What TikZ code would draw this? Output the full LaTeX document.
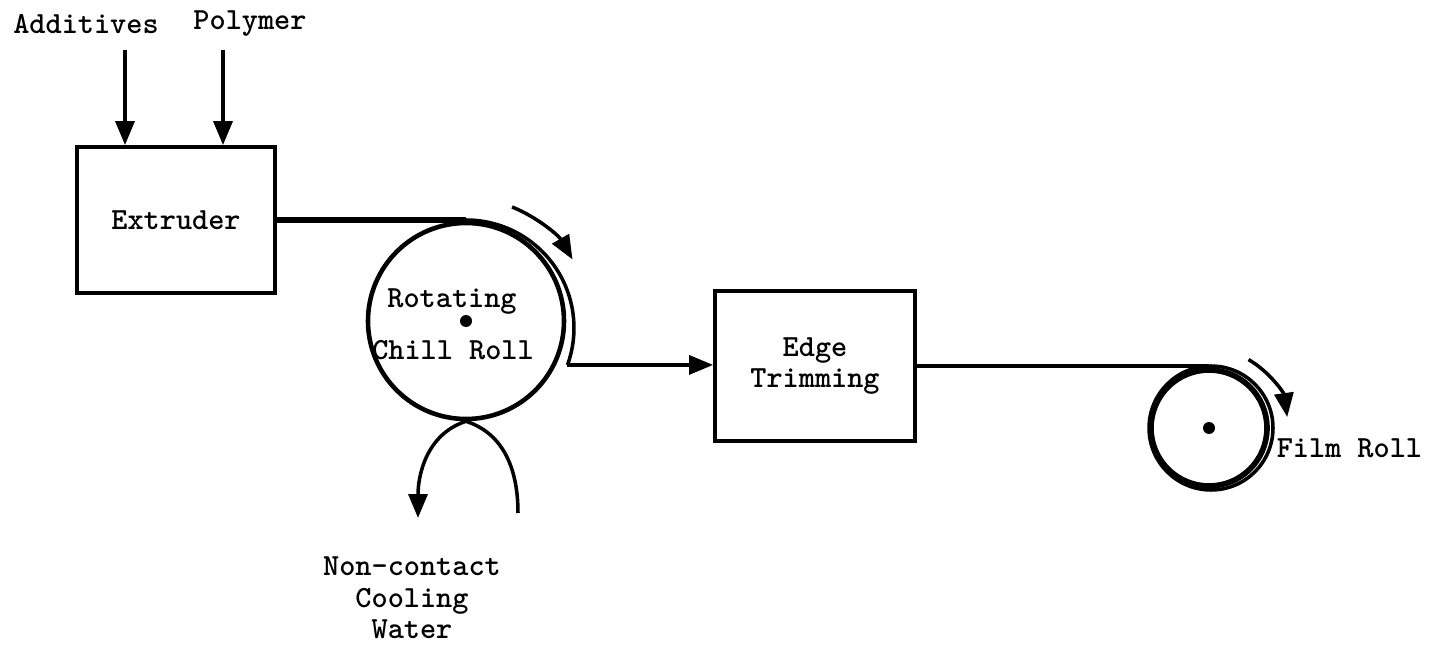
\documentclass[tikz,border=0pt]{standalone}
\usetikzlibrary{arrows.meta,positioning}
\newcommand{\spin}[4]{\draw[->] (#1) ++(#2:#4) arc[start angle=#2, end angle=#3, radius=#4]; }

\begin{document}
\begin{tikzpicture}[x=0.2mm,y=0.2mm,>={Triangle[length=4.8mm,width=3.8mm]},line width=2pt,
  every node/.style={font=\fontsize{17.5}{18}\selectfont\ttfamily\bfseries},
  unit/.style={draw,line width=2.2pt,align=center},
  roll/.style={circle,draw,inner sep=0pt}]
  \useasboundingbox (0,0) rectangle (1433,647);
  \node[unit,minimum width=39.6mm,minimum height=29.2mm] (ext) at (176,427) {Extruder};
  \node (add) at (86,623) {Additives};
  \node (pol) at (250,623) {Polymer};
  \coordinate (addin) at (125,597);
  \coordinate (polin) at (223,597);
  \draw[->] (addin) -- (addin |- ext.north);
  \draw[->] (polin) -- (polin |- ext.north);
  \node[roll,line width=2.6pt,minimum size=39.2mm] (chill) at (466,326) {};
  \fill (chill.center) circle[radius=6];
  \node (rot) at (452,345) {Rotating};
  \node (cr) at (453,297) {Chill Roll};
  \node[unit,minimum width=40mm,minimum height=30mm] (trim) at (815,281) {Edge\\Trimming};
  % film path
  \draw[line width=3.8pt] (ext.east) -- (ext.east -| chill.north);
  \draw (ext.east -| chill.north) arc[start angle=90, end angle=-20, radius=108] coordinate (off);
  \draw[->] (off) -- (off -| trim.west);
  \spin{chill.center}{68}{30}{123}
  % cooling water
  \coordinate (win) at (518,134);
  \coordinate (wout) at (418,129);
  \draw[->] (win) to[out=90,in=-18] (chill.south) to[out=198,in=90] (wout);
  \node[align=center] (water) at (412,49) {Non-contact\\Cooling\\Water};
  % wind up
  \node[roll,line width=3.2pt,minimum size=23.2mm] (film) at (1209,219) {};
  \draw (1211,219) circle[radius=62];
  \fill (film.center) circle[radius=6];
  \draw (trim.east) -- (trim.east -| film.north);
  \spin{film.center}{60}{8}{79}
  \node[anchor=west,inner sep=0pt] (flab) at (1275,199) {Film Roll};
\end{tikzpicture}
\end{document}
